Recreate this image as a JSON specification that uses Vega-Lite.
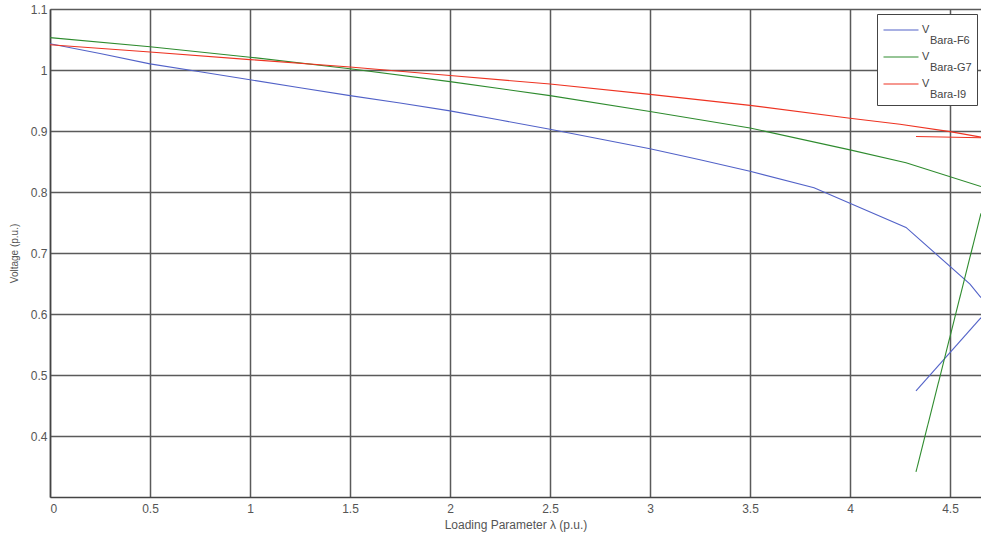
{
  "$schema": "https://vega.github.io/schema/vega-lite/v6.json",
  "width": 931,
  "height": 488,
  "autosize": {"type": "none"},
  "padding": {"left": 50, "top": 9, "right": 0, "bottom": 46},
  "background": "white",
  "config": {"view": {"stroke": null}, "font": "Liberation Sans", "style": {"guide-label": {"lineHeight": 11}}},
  "data": {
    "values": [
      {"series": "F6", "seg": "F6a", "i": 1, "x": 0, "y": 1.043},
      {"series": "F6", "seg": "F6a", "i": 2, "x": 0.25, "y": 1.027},
      {"series": "F6", "seg": "F6a", "i": 3, "x": 0.5, "y": 1.01},
      {"series": "F6", "seg": "F6a", "i": 4, "x": 0.75, "y": 0.997},
      {"series": "F6", "seg": "F6a", "i": 5, "x": 1.0, "y": 0.984},
      {"series": "F6", "seg": "F6a", "i": 6, "x": 1.25, "y": 0.971},
      {"series": "F6", "seg": "F6a", "i": 7, "x": 1.5, "y": 0.958},
      {"series": "F6", "seg": "F6a", "i": 8, "x": 1.75, "y": 0.946},
      {"series": "F6", "seg": "F6a", "i": 9, "x": 2.0, "y": 0.933},
      {"series": "F6", "seg": "F6a", "i": 10, "x": 2.25, "y": 0.918},
      {"series": "F6", "seg": "F6a", "i": 11, "x": 2.5, "y": 0.903},
      {"series": "F6", "seg": "F6a", "i": 12, "x": 2.75, "y": 0.887},
      {"series": "F6", "seg": "F6a", "i": 13, "x": 3.0, "y": 0.871},
      {"series": "F6", "seg": "F6a", "i": 14, "x": 3.25, "y": 0.853},
      {"series": "F6", "seg": "F6a", "i": 15, "x": 3.5, "y": 0.834},
      {"series": "F6", "seg": "F6a", "i": 16, "x": 3.82, "y": 0.807},
      {"series": "F6", "seg": "F6a", "i": 17, "x": 4.28, "y": 0.742},
      {"series": "F6", "seg": "F6a", "i": 18, "x": 4.6, "y": 0.649},
      {"series": "F6", "seg": "F6a", "i": 19, "x": 4.655, "y": 0.627},
      {"series": "F6", "seg": "F6b", "i": 20, "x": 4.655, "y": 0.594},
      {"series": "F6", "seg": "F6b", "i": 21, "x": 4.33, "y": 0.474},
      {"series": "G7", "seg": "G7a", "i": 1, "x": 0, "y": 1.053},
      {"series": "G7", "seg": "G7a", "i": 2, "x": 0.5, "y": 1.038},
      {"series": "G7", "seg": "G7a", "i": 3, "x": 1.0, "y": 1.021},
      {"series": "G7", "seg": "G7a", "i": 4, "x": 1.5, "y": 1.002},
      {"series": "G7", "seg": "G7a", "i": 5, "x": 2.0, "y": 0.981},
      {"series": "G7", "seg": "G7a", "i": 6, "x": 2.5, "y": 0.958},
      {"series": "G7", "seg": "G7a", "i": 7, "x": 3.0, "y": 0.932},
      {"series": "G7", "seg": "G7a", "i": 8, "x": 3.5, "y": 0.905},
      {"series": "G7", "seg": "G7a", "i": 9, "x": 4.0, "y": 0.869},
      {"series": "G7", "seg": "G7a", "i": 10, "x": 4.28, "y": 0.848},
      {"series": "G7", "seg": "G7a", "i": 11, "x": 4.655, "y": 0.809},
      {"series": "G7", "seg": "G7b", "i": 12, "x": 4.655, "y": 0.765},
      {"series": "G7", "seg": "G7b", "i": 13, "x": 4.33, "y": 0.341},
      {"series": "I9", "seg": "I9a", "i": 1, "x": 0, "y": 1.0415},
      {"series": "I9", "seg": "I9a", "i": 2, "x": 0.5, "y": 1.0295},
      {"series": "I9", "seg": "I9a", "i": 3, "x": 1.0, "y": 1.017},
      {"series": "I9", "seg": "I9a", "i": 4, "x": 1.5, "y": 1.005},
      {"series": "I9", "seg": "I9a", "i": 5, "x": 2.0, "y": 0.991},
      {"series": "I9", "seg": "I9a", "i": 6, "x": 2.5, "y": 0.977},
      {"series": "I9", "seg": "I9a", "i": 7, "x": 3.0, "y": 0.96},
      {"series": "I9", "seg": "I9a", "i": 8, "x": 3.5, "y": 0.942},
      {"series": "I9", "seg": "I9a", "i": 9, "x": 4.0, "y": 0.921},
      {"series": "I9", "seg": "I9a", "i": 10, "x": 4.25, "y": 0.911},
      {"series": "I9", "seg": "I9a", "i": 11, "x": 4.5, "y": 0.899},
      {"series": "I9", "seg": "I9a", "i": 12, "x": 4.655, "y": 0.89},
      {"series": "I9", "seg": "I9b", "i": 13, "x": 4.33, "y": 0.891},
      {"series": "I9", "seg": "I9b", "i": 14, "x": 4.655, "y": 0.889}
    ]
  },
  "mark": {"type": "line", "strokeWidth": 1.1, "clip": true},
  "encoding": {
    "x": {
      "field": "x",
      "type": "quantitative",
      "scale": {"domain": [0, 4.655], "nice": false, "zero": false},
      "axis": {
        "values": [0, 0.5, 1, 1.5, 2, 2.5, 3, 3.5, 4, 4.5],
        "format": "~g",
        "title": "Loading Parameter λ (p.u.)",
        "titleFontSize": 12,
        "titleFontWeight": "normal",
        "titleColor": "#555555",
        "titlePadding": 5,
        "labelFontSize": 12,
        "labelColor": "#555555",
        "labelPadding": 6,
        "ticks": false,
        "grid": true,
        "gridColor": "#5a5a5a",
        "gridWidth": 1.5,
        "domainColor": "#444444",
        "domainWidth": 1.5
      }
    },
    "y": {
      "field": "y",
      "type": "quantitative",
      "scale": {"domain": [0.3, 1.1], "nice": false, "zero": false},
      "axis": {
        "values": [0.4, 0.5, 0.6, 0.7, 0.8, 0.9, 1.0, 1.1],
        "format": "~g",
        "title": "Voltage (p.u.)",
        "titleFontSize": 10,
        "titleFontWeight": "normal",
        "titleColor": "#555555",
        "titlePadding": 11,
        "labelFontSize": 12,
        "labelColor": "#555555",
        "labelPadding": 3,
        "ticks": false,
        "grid": true,
        "gridColor": "#5a5a5a",
        "gridWidth": 1.5,
        "domainColor": "#444444",
        "domainWidth": 1.5
      }
    },
    "color": {
      "field": "series",
      "type": "nominal",
      "scale": {"domain": ["F6", "G7", "I9"], "range": ["#5262c8", "#2e8b2e", "#ee3322"]},
      "legend": {
        "title": null,
        "orient": "none",
        "legendX": 827,
        "legendY": 5,
        "fillColor": "white",
        "strokeColor": "#444444",
        "padding": 5,
        "symbolType": "M-1.75,0L1.75,0",
        "symbolSize": 400,
        "symbolStrokeWidth": 1.2,
        "symbolOffset": 8,
        "labelFontSize": 11,
        "labelColor": "#444444",
        "labelOffset": 10,
        "labelExpr": "['V', '\u2800Bara-' + datum.label]",
        "rowPadding": 0,
        "encoding": {
          "labels": {"update": {"lineHeight": {"value": 11}}}
        }
      }
    },
    "detail": {"field": "seg"},
    "order": {"field": "i"}
  }
}
